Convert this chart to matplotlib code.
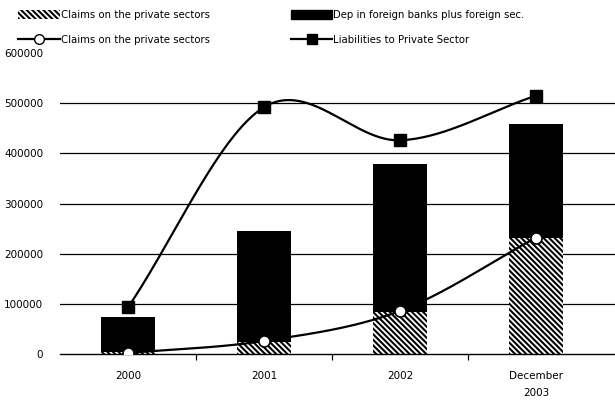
import numpy as np
import matplotlib
matplotlib.use("Agg")
import matplotlib.pyplot as plt
from matplotlib.patches import Patch
from matplotlib.lines import Line2D

# data
categories = ["2000", "2001", "2002", "December\n2003"]
claims_bar = [3000, 24500, 84000, 231000]
dep_foreign_bar = [71000, 220500, 294500, 227000]
claims_line = [2000, 26000, 86000, 232000]
liabilities_line = [93000, 492000, 426000, 515000]
yticks = [0, 100000, 200000, 300000, 400000, 500000, 600000]

plt.rcParams["hatch.linewidth"] = 1.5
plt.rcParams["font.family"] = "DejaVu Sans"

HATCH = "\\" * 6


def smooth(y, n=60):
    """Catmull-Rom style smoothing through the points (like a spreadsheet smoothed line)."""
    y = np.asarray(y, dtype=float)
    x = np.arange(len(y), dtype=float)
    m = np.zeros_like(y)
    m[1:-1] = (y[2:] - y[:-2]) / 2.0
    m[0] = y[1] - y[0]
    m[-1] = y[-1] - y[-2]
    xs, ys = [], []
    for i in range(len(y) - 1):
        t = np.linspace(0, 1, n)
        h00 = 2 * t**3 - 3 * t**2 + 1
        h10 = t**3 - 2 * t**2 + t
        h01 = -2 * t**3 + 3 * t**2
        h11 = t**3 - t**2
        xs.append(x[i] + t)
        ys.append(h00 * y[i] + h10 * m[i] + h01 * y[i + 1] + h11 * m[i + 1])
    return np.concatenate(xs), np.concatenate(ys)


fig = plt.figure(figsize=(6.15, 4.01), dpi=100)
ax = fig.add_axes([60 / 615, 1 - 354 / 401, 1 - 60 / 615, (354 - 53) / 401])

x = np.arange(len(categories))
width = 0.40

# gridlines (no line at the top value)
for v in yticks[1:-1]:
    ax.axhline(v, color="black", linewidth=0.9, zorder=0)

ax.bar(x, claims_bar, width, color="white", edgecolor="black", hatch=HATCH,
       linewidth=0, zorder=2)
ax.bar(x, dep_foreign_bar, width, bottom=claims_bar, color="black", linewidth=0, zorder=2)

sx, sy = smooth(claims_line)
ax.plot(sx, sy, color="black", linewidth=1.6, zorder=3)
ax.plot(x, claims_line, linestyle="none", marker="o", markersize=8,
        markerfacecolor="white", markeredgecolor="black", markeredgewidth=1.2, zorder=4)

sx, sy = smooth(liabilities_line)
ax.plot(sx, sy, color="black", linewidth=1.6, zorder=3)
ax.plot(x, liabilities_line, linestyle="none", marker="s", markersize=8,
        markerfacecolor="black", markeredgecolor="black", zorder=4)

ax.set_xlim(-0.5, 3.58)
ax.set_ylim(0, 600000)
ax.set_yticks(yticks)
ax.set_yticklabels([str(v) for v in yticks], fontsize=7.5)
ax.set_xticks(x)
ax.set_xticklabels(categories, fontsize=7.5, linespacing=1.9)
ax.set_xticks([0.5, 1.5, 2.5], minor=True)
ax.tick_params(axis="x", which="major", length=0, pad=12)
ax.tick_params(axis="x", which="minor", length=4, width=0.9, direction="out")
ax.tick_params(axis="y", length=0, pad=12)

for side in ["top", "right", "left"]:
    ax.spines[side].set_visible(False)
ax.spines["bottom"].set_linewidth(1.0)

handles = [
    Patch(facecolor="white", edgecolor="black", hatch=HATCH, linewidth=0),
    Line2D([], [], color="black", linewidth=1.6, marker="o", markersize=7,
           markerfacecolor="white", markeredgecolor="black"),
    Patch(facecolor="black", edgecolor="black"),
    Line2D([], [], color="black", linewidth=1.6, marker="s", markersize=7,
           markerfacecolor="black"),
]
labels = [
    "Claims on the private sectors",
    "Claims on the private sectors",
    "Dep in foreign banks plus foreign sec.",
    "Liabilities to Private Sector",
]
fig.legend(handles, labels, ncol=2, loc="upper left", bbox_to_anchor=(14 / 615, 1 - 6 / 401),
           frameon=False, fontsize=7.3, handlelength=4.1, handleheight=0.9,
           handletextpad=0.1, columnspacing=8.0, labelspacing=1.5, borderaxespad=0)

fig.savefig("out.png", dpi=100)
